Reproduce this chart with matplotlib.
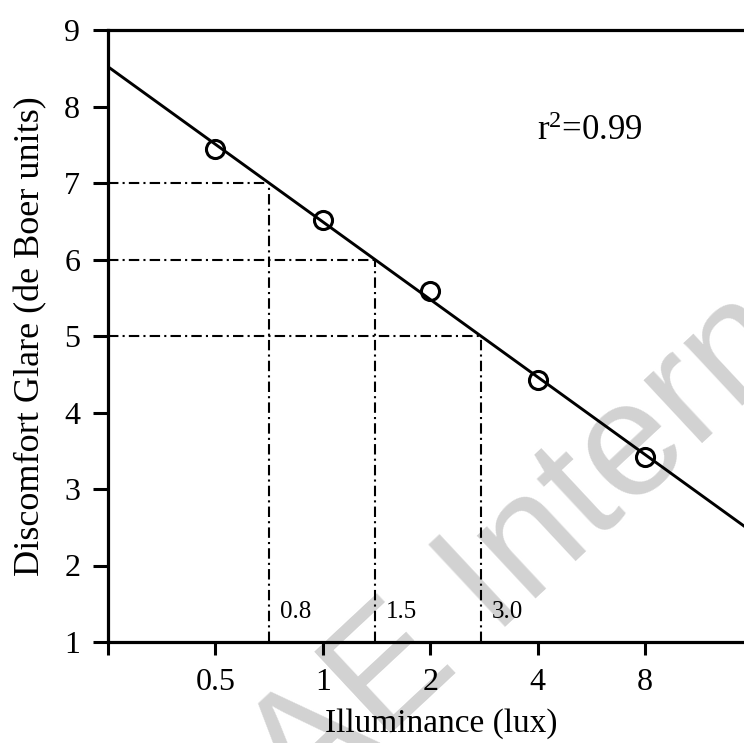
import numpy as np
import matplotlib
matplotlib.use("Agg")
import matplotlib.pyplot as plt

plt.rcParams['font.family'] = ['Liberation Serif', 'DejaVu Serif']
plt.rcParams['mathtext.fontset'] = 'custom'
plt.rcParams['mathtext.rm'] = 'Liberation Serif'
plt.rcParams['mathtext.it'] = 'Liberation Serif:italic'

# measured points
illuminance = [0.5, 1, 2, 4, 8]
glare = [7.44, 6.52, 5.59, 4.42, 3.42]

# criterion glare levels and the illuminance where the fit reaches them
glare_levels = [7, 6, 5]
level_labels = ['0.8', '1.5', '3.0']

x_ticks = [0.25, 0.5, 1, 2, 4, 8]
x_tick_labels = ['', '0.5', '1', '2', '4', '8']
y_ticks = [1, 2, 3, 4, 5, 6, 7, 8, 9]

x_min, x_max = 0.25, 15.15

# log-linear fit
slope, intercept = np.polyfit(np.log2(illuminance), glare, 1)
fit_x = np.array([x_min, x_max])
fit_y = intercept + slope * np.log2(fit_x)
cross_x = [2 ** ((g - intercept) / slope) for g in glare_levels]

fig = plt.figure(figsize=(7.44, 7.43), dpi=100)
ax = fig.add_axes([108 / 744, 1 - 642 / 743, 636 / 744, 612 / 743])
ax.set_facecolor('none')

# watermark
fig.text(0.887, 0.427, 'SAE International', rotation=43, fontsize=118,
         color='#d2d2d2', family='Liberation Sans', ha='center', va='center',
         zorder=-1)

dash = (0, (5.0, 2.0, 1.0, 2.0))
for cx, g, lab in zip(cross_x, glare_levels, level_labels):
    ax.plot([x_min, cx], [g, g], color='black', lw=1.5, ls=dash, zorder=2)
    ax.plot([cx, cx], [1, g], color='black', lw=1.5, ls=dash, zorder=2)
    ax.annotate(lab, xy=(cx, 1.31), xytext=(8, 0), textcoords='offset points',
                fontsize=18, ha='left', va='baseline')

ax.plot(fit_x, fit_y, color='black', lw=2.1, zorder=3)
ax.plot(illuminance, glare, 'o', ms=13, mfc='none', mec='black', mew=2.2,
        zorder=4, clip_on=False)

ax.text(0.675, 0.82, r'r$^2$=0.99', transform=ax.transAxes, fontsize=25,
        ha='left', va='baseline')

ax.set_xscale('log', base=2)
ax.set_xlim(x_min, x_max)
ax.set_ylim(1, 9)
ax.set_xticks(x_ticks)
ax.set_xticklabels(x_tick_labels)
ax.minorticks_off()
ax.set_yticks(y_ticks)

ax.spines['right'].set_visible(False)
for s in ['left', 'top', 'bottom']:
    ax.spines[s].set_linewidth(2.3)

ax.tick_params(axis='y', direction='out', length=11, width=2.2, pad=9,
               labelsize=23)
ax.tick_params(axis='x', direction='out', length=9.5, width=2.2, pad=9,
               labelsize=23)

ax.set_xlabel('Illuminance (lux)', fontsize=24, labelpad=8, x=0.524)
ax.set_ylabel('Discomfort Glare (de Boer units)', fontsize=26, labelpad=12)

fig.savefig('out.png', dpi=100)
